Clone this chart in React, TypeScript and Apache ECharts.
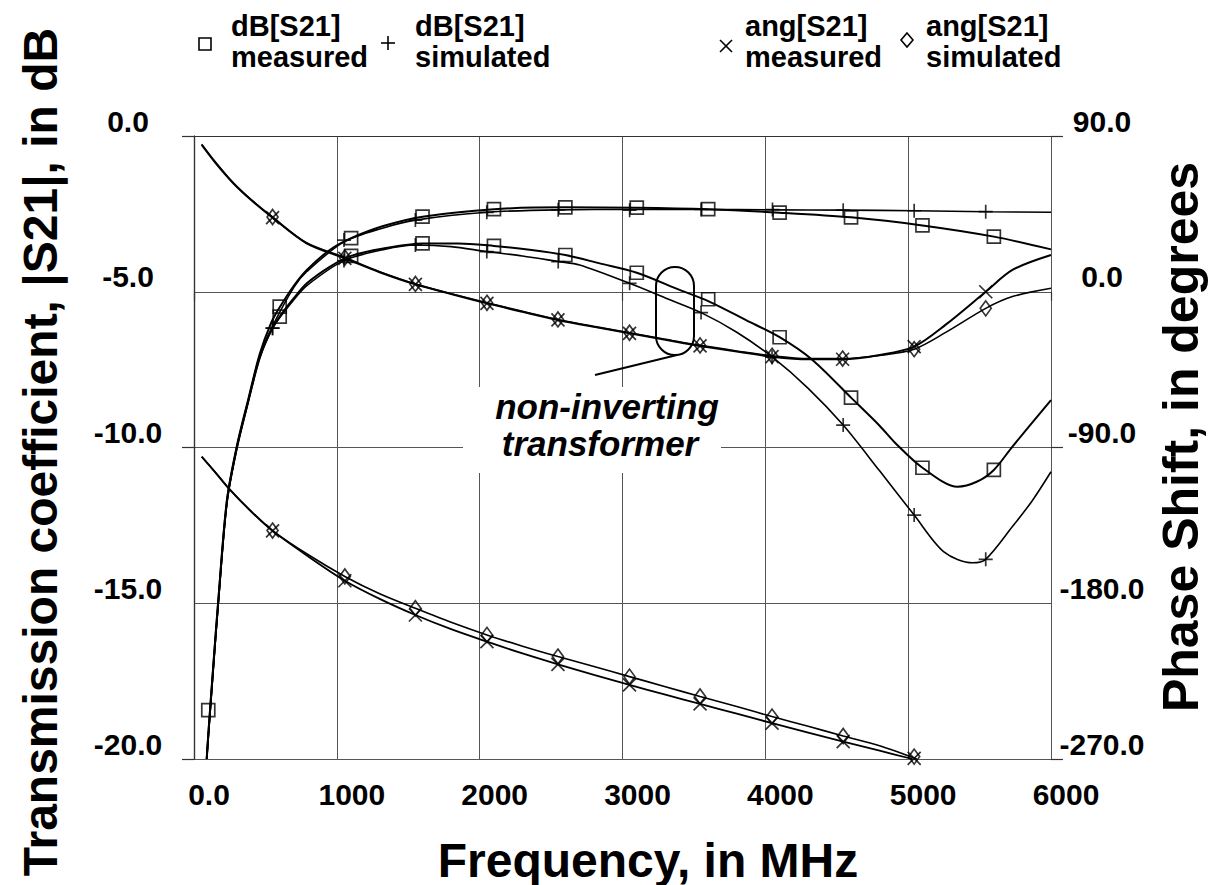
import React, { useEffect, useRef } from "react";
import * as echarts from "echarts";

// ---------- data (frequency in MHz) ----------
const xTicks = [0, 1000, 2000, 3000, 4000, 5000, 6000];
const dbTicks = [-20, -15, -10, -5, 0];
const degTicks = [-270, -180, -90, 0, 90];

// dB curves, transformer A (flat) and B (non-inverting, dip)
const dbMeasA: number[][] = [[89,-20],[100,-19.2],[135,-17.0],[170,-14.9],[230,-11.7],[300,-9.95],[380,-8.45],[460,-7.0],[540,-6.0],[600,-5.5],[700,-4.8],[790,-4.3],[950,-3.66],[1100,-3.28],[1325,-2.89],[1600,-2.59],[2100,-2.35],[2600,-2.29],[3100,-2.30],[3600,-2.35],[4100,-2.46],[4600,-2.61],[5100,-2.87],[5600,-3.23],[6000,-3.64]];
const dbSimA: number[][] = [[89,-20],[100,-19.3],[135,-17.1],[170,-15.0],[230,-11.8],[300,-10.0],[380,-8.5],[460,-7.05],[550,-6.1],[700,-4.85],[790,-4.35],[1050,-3.4],[1325,-2.95],[1550,-2.7],[2050,-2.45],[2550,-2.37],[3050,-2.36],[3550,-2.36],[4050,-2.37],[4550,-2.38],[5050,-2.40],[5550,-2.43],[6000,-2.45]];
const dbMeasB: number[][] = [[89,-20],[100,-19.25],[135,-17.05],[170,-14.95],[230,-11.75],[300,-10.0],[380,-8.5],[460,-7.1],[540,-6.25],[600,-5.8],[700,-5.2],[790,-4.73],[950,-4.2],[1100,-3.85],[1325,-3.61],[1600,-3.45],[1850,-3.45],[2100,-3.53],[2350,-3.65],[2600,-3.82],[2840,-4.09],[3100,-4.39],[3400,-4.94],[3600,-5.3],[3865,-5.91],[4100,-6.46],[4330,-7.19],[4600,-8.4],[4800,-9.3],[4913,-9.87],[5100,-10.65],[5345,-11.26],[5480,-11.1],[5600,-10.72],[5730,-9.97],[6000,-8.48]];
const dbSimB: number[][] = [[89,-20],[100,-19.3],[135,-17.1],[170,-15.0],[230,-11.8],[300,-10.05],[380,-8.55],[460,-7.15],[550,-6.17],[700,-5.25],[790,-4.8],[1050,-4.0],[1325,-3.65],[1550,-3.5],[1800,-3.55],[2050,-3.71],[2300,-3.85],[2550,-4.03],[2700,-4.14],[3050,-4.73],[3300,-5.2],[3550,-5.67],[3800,-6.3],[4050,-7.10],[4300,-8.1],[4545,-9.28],[4800,-10.75],[5042,-12.17],[5250,-13.35],[5450,-13.70],[5543,-13.59],[5730,-12.54],[5870,-11.7],[6000,-10.78]];

// phase curves (degrees)
const angMeasB: number[][] = [[54,84.8],[150,74.5],[275,62.7],[400,53],[550,42.8],[788,28.0],[1056,19.3],[1300,11.3],[1550,4.3],[1800,-1.3],[2051,-6.7],[2300,-11.6],[2548,-16.3],[2800,-20.3],[3049,-24.0],[3300,-27.8],[3543,-31.3],[3800,-34.6],[4047,-37.5],[4300,-39.0],[4541,-39.0],[4800,-36.5],[5042,-31.7],[5263,-19],[5543,0.0],[5730,12.6],[6000,21.2]];
const angSimB: number[][] = [[54,85.3],[150,75],[275,63],[400,53.3],[550,43.2],[788,28.3],[1056,19.8],[1300,11.6],[1550,4.5],[1800,-1.1],[2051,-6.4],[2300,-11.3],[2548,-16.0],[2800,-20.0],[3049,-23.7],[3300,-27.4],[3543,-31.0],[3800,-34.2],[4047,-37.0],[4300,-38.6],[4541,-38.6],[4800,-36.8],[5042,-33.2],[5263,-23.5],[5543,-9.6],[5730,-2.8],[6000,2.0]];
const angMeasA: number[][] = [[54,-95.3],[150,-104.5],[252,-114.5],[400,-127],[550,-138.2],[800,-153],[1056,-167],[1300,-177.5],[1550,-186.8],[1800,-195],[2051,-202.2],[2300,-209],[2548,-215.3],[2800,-221.4],[3049,-227.2],[3300,-232.8],[3543,-238.2],[3800,-243.8],[4047,-249.3],[4300,-254.7],[4545,-260.0],[4800,-265.2],[5030,-270]];
const angSimA: number[][] = [[54,-95.3],[150,-104.3],[252,-114.3],[400,-126.8],[550,-138.0],[800,-152],[1056,-164.5],[1300,-174.5],[1550,-182.9],[1800,-191],[2051,-198.3],[2300,-204.8],[2548,-210.8],[2800,-216.6],[3049,-222.4],[3300,-228.2],[3543,-233.9],[3800,-239.7],[4047,-245.5],[4300,-251.1],[4545,-256.7],[4800,-262.4],[5060,-270]];

// markers
const sqA: number[][] = [[600,-5.48],[1100,-3.28],[1600,-2.59],[2100,-2.35],[2600,-2.29],[3100,-2.30],[3600,-2.35],[4100,-2.46],[4600,-2.61],[5100,-2.87],[5600,-3.23]];
const sqB: number[][] = [[100,-18.43],[600,-5.80],[1100,-3.85],[1600,-3.45],[2100,-3.53],[2600,-3.82],[3100,-4.39],[3600,-5.24],[4100,-6.46],[4600,-8.4],[5100,-10.65],[5600,-10.72]];
const plusA: number[][] = [[550,-6.17],[1050,-3.34],[1550,-2.7],[2050,-2.45],[2550,-2.37],[3050,-2.38],[3550,-2.36],[4050,-2.36],[4545,-2.38],[5042,-2.40],[5543,-2.43]];
const plusB: number[][] = [[550,-6.17],[1050,-4.0],[1550,-3.5],[2050,-3.71],[2550,-4.03],[3050,-4.73],[3550,-5.67],[4047,-7.10],[4545,-9.28],[5042,-12.17],[5543,-13.59]];
const crossB: number[][] = [[550,42.8],[1056,19.3],[1550,4.3],[2051,-6.7],[2548,-16.3],[3049,-24.0],[3543,-31.3],[4047,-37.5],[4541,-39.0],[5042,-31.7],[5543,0.0]];
const diamB: number[][] = [[550,43.2],[1056,19.8],[1550,4.5],[2051,-6.4],[2548,-16.0],[3049,-23.7],[3543,-31.0],[4047,-37.0],[4541,-38.6],[5042,-33.2],[5543,-9.6]];
const crossA: number[][] = [[550,-138.2],[1056,-167],[1550,-186.8],[2051,-202.2],[2548,-215.3],[3049,-227.2],[3543,-238.2],[4047,-249.3],[4545,-260.0],[5042,-269.6]];
const diamA: number[][] = [[550,-138],[1056,-164.5],[1550,-182.9],[2051,-198.3],[2548,-210.8],[3049,-222.4],[3543,-233.9],[4047,-245.5],[4545,-256.7],[5042,-268.6]];

const legendLines = [
  ["dB[S21]", "measured"],
  ["dB[S21]", "simulated"],
  ["ang[S21]", "measured"],
  ["ang[S21]", "simulated"],
];

const FONT = '"Liberation Sans", Arial, Helvetica, sans-serif';
const SQ = "path://M0,0L10,0L10,10L0,10Z";
const PLUS = "path://M0,5L10,5M5,0L5,10";
const CROSS = "path://M0,0L10,10M10,0L0,10";
const DIAM = "path://M5,0L10,7L5,14L0,7Z";

function lineSeries(data: number[][], yIdx: number, width = 1.5) {
  return {
    type: "line",
    data,
    yAxisIndex: yIdx,
    showSymbol: false,
    smooth: 0.3,
    silent: true,
    lineStyle: { color: "#000", width },
    z: 3,
  };
}
function markSeries(data: number[][], yIdx: number, symbol: string, size: number | number[]) {
  return {
    type: "scatter",
    data,
    yAxisIndex: yIdx,
    symbol,
    symbolSize: size,
    silent: true,
    itemStyle: { color: "rgba(0,0,0,0)", borderColor: "#000", borderWidth: 1.7 },
    z: 4,
  };
}

export default function App() {
  const ref = useRef<HTMLDivElement>(null);
  useEffect(() => {
    if (!ref.current) return;
    const chart = echarts.init(ref.current, undefined, { renderer: "svg" });
    const tickLabel = { fontFamily: FONT, fontWeight: "bold", fontSize: 30, color: "#000" };
    const legendX = [231, 415, 745, 926];
    const txt = (extra: any) => ({ fontFamily: FONT, fontWeight: "bold", fill: "#000", align: "center", verticalAlign: "middle", textAlign: "center", textVerticalAlign: "middle", ...extra });
    const graphic: any[] = [
      // axis titles
      { type: "text", x: 40, y: 452, rotation: Math.PI / 2, z: 20,
        style: txt({ text: "Transmission coefficient, |S21|, in dB", fontSize: 48 }) },
      { type: "text", x: 1181, y: 437, rotation: Math.PI / 2, z: 20,
        style: txt({ text: "Phase Shift, in degrees", fontSize: 50 }) },
      { type: "text", x: 648, y: 860, z: 20,
        style: txt({ text: "Frequency, in MHz", fontSize: 48 }) },
      // annotation
      { type: "rect", shape: { x: 463, y: 387, width: 258, height: 86 }, style: { fill: "#fff" }, z: 10 },
      { type: "text", x: 607, y: 406, z: 11,
        style: txt({ text: "non-inverting", fontStyle: "italic", fontSize: 35 }) },
      { type: "text", x: 600, y: 443, z: 11,
        style: txt({ text: "transformer", fontStyle: "italic", fontSize: 35 }) },
      { type: "rect", shape: { x: 656, y: 267, width: 38, height: 88, r: 19 }, style: { fill: "none", stroke: "#000", lineWidth: 2 }, z: 12 },
      { type: "line", shape: { x1: 595, y1: 375, x2: 677, y2: 355 }, style: { stroke: "#000", lineWidth: 2 }, z: 12 },
      // legend symbols
      { type: "rect", shape: { x: 199, y: 38, width: 12, height: 12 }, style: { fill: "none", stroke: "#000", lineWidth: 1.6 }, z: 12 },
      { type: "line", shape: { x1: 381, y1: 43, x2: 395, y2: 43 }, style: { stroke: "#000", lineWidth: 1.6 }, z: 12 },
      { type: "line", shape: { x1: 388, y1: 36, x2: 388, y2: 50 }, style: { stroke: "#000", lineWidth: 1.6 }, z: 12 },
      { type: "line", shape: { x1: 720, y1: 40, x2: 732, y2: 52 }, style: { stroke: "#000", lineWidth: 1.6 }, z: 12 },
      { type: "line", shape: { x1: 732, y1: 40, x2: 720, y2: 52 }, style: { stroke: "#000", lineWidth: 1.6 }, z: 12 },
      { type: "polygon", shape: { points: [[907, 33], [913, 40], [907, 47], [901, 40]] }, style: { fill: "none", stroke: "#000", lineWidth: 1.6 }, z: 12 },
    ];
    legendLines.forEach((lines, i) => {
      lines.forEach((t, j) => {
        graphic.push({
          type: "text", x: legendX[i], y: 26 + j * 31, z: 12,
          style: txt({ text: t, fontSize: 29, align: "left", textAlign: "left" }),
        });
      });
    });

    chart.setOption({
      animation: false,
      backgroundColor: "#fff",
      grid: { left: 194, right: 160, top: 136, bottom: 126, containLabel: false },
      xAxis: [
        {
          type: "value", min: xTicks[0], max: xTicks[xTicks.length - 1], interval: 1000, position: "bottom",
          axisLine: { show: true, lineStyle: { color: "#333", width: 1.2 } },
          axisTick: { show: false },
          splitLine: { show: true, lineStyle: { color: "#555", width: 1 } },
          axisLabel: { ...tickLabel, margin: 20, padding: [0, 0, 0, 30], formatter: (v: number) => (v === 0 ? "0.0" : String(v)) },
        },
        {
          type: "value", min: 0, max: 6000, interval: 3000, position: "bottom",
          axisLine: { show: false }, axisLabel: { show: false }, splitLine: { show: false },
          axisTick: { show: true, length: 9, lineStyle: { color: "#333", width: 1.2 } },
        },
      ],
      yAxis: [
        {
          type: "value", min: dbTicks[0], max: dbTicks[dbTicks.length - 1], interval: 5, position: "left",
          axisLine: { show: true, lineStyle: { color: "#333", width: 1.2 } },
          axisTick: { show: false },
          splitLine: { show: true, lineStyle: { color: "#555", width: 1 } },
          axisLabel: { ...tickLabel, align: "center", verticalAlign: "bottom", lineHeight: 30, margin: 66, formatter: (v: number) => v.toFixed(1) },
        },
        {
          type: "value", min: degTicks[0], max: degTicks[degTicks.length - 1], interval: 90, position: "right",
          axisLine: { show: true, lineStyle: { color: "#333", width: 1.2 } },
          axisTick: { show: false },
          splitLine: { show: false },
          axisLabel: { ...tickLabel, align: "center", verticalAlign: "bottom", lineHeight: 30, margin: 51, formatter: (v: number) => v.toFixed(1) },
        },
        {
          type: "value", min: -20, max: 0, interval: 10, position: "left",
          axisLine: { show: false }, axisLabel: { show: false }, splitLine: { show: false },
          axisTick: { show: true, length: 12, lineStyle: { color: "#333", width: 1.2 } },
        },
        {
          type: "value", min: -20, max: 0, interval: 10, position: "right",
          axisLine: { show: false }, axisLabel: { show: false }, splitLine: { show: false },
          axisTick: { show: true, length: 12, lineStyle: { color: "#333", width: 1.2 } },
        },
      ],
      graphic,
      series: [
        lineSeries(dbMeasA, 0, 2),
        lineSeries(dbSimA, 0, 1.6),
        lineSeries(dbMeasB, 0, 2),
        lineSeries(dbSimB, 0, 1.6),
        lineSeries(angMeasB, 1, 2),
        lineSeries(angSimB, 1, 1.6),
        lineSeries(angMeasA, 1, 1.8),
        lineSeries(angSimA, 1, 1.6),
        markSeries(sqA, 0, SQ, 13),
        markSeries(sqB, 0, SQ, 13),
        markSeries(plusA, 0, PLUS, 14),
        markSeries(plusB, 0, PLUS, 14),
        markSeries(crossB, 1, CROSS, 13),
        markSeries(diamB, 1, DIAM, [11, 15]),
        markSeries(crossA, 1, CROSS, 13),
        markSeries(diamA, 1, DIAM, [11, 15]),
      ],
    });
    return () => chart.dispose();
  }, []);
  return (
    <div
      ref={ref}
      style={{ position: "absolute", left: 0, top: 0, width: 1211, height: 885, background: "#fff" }}
    />
  );
}
